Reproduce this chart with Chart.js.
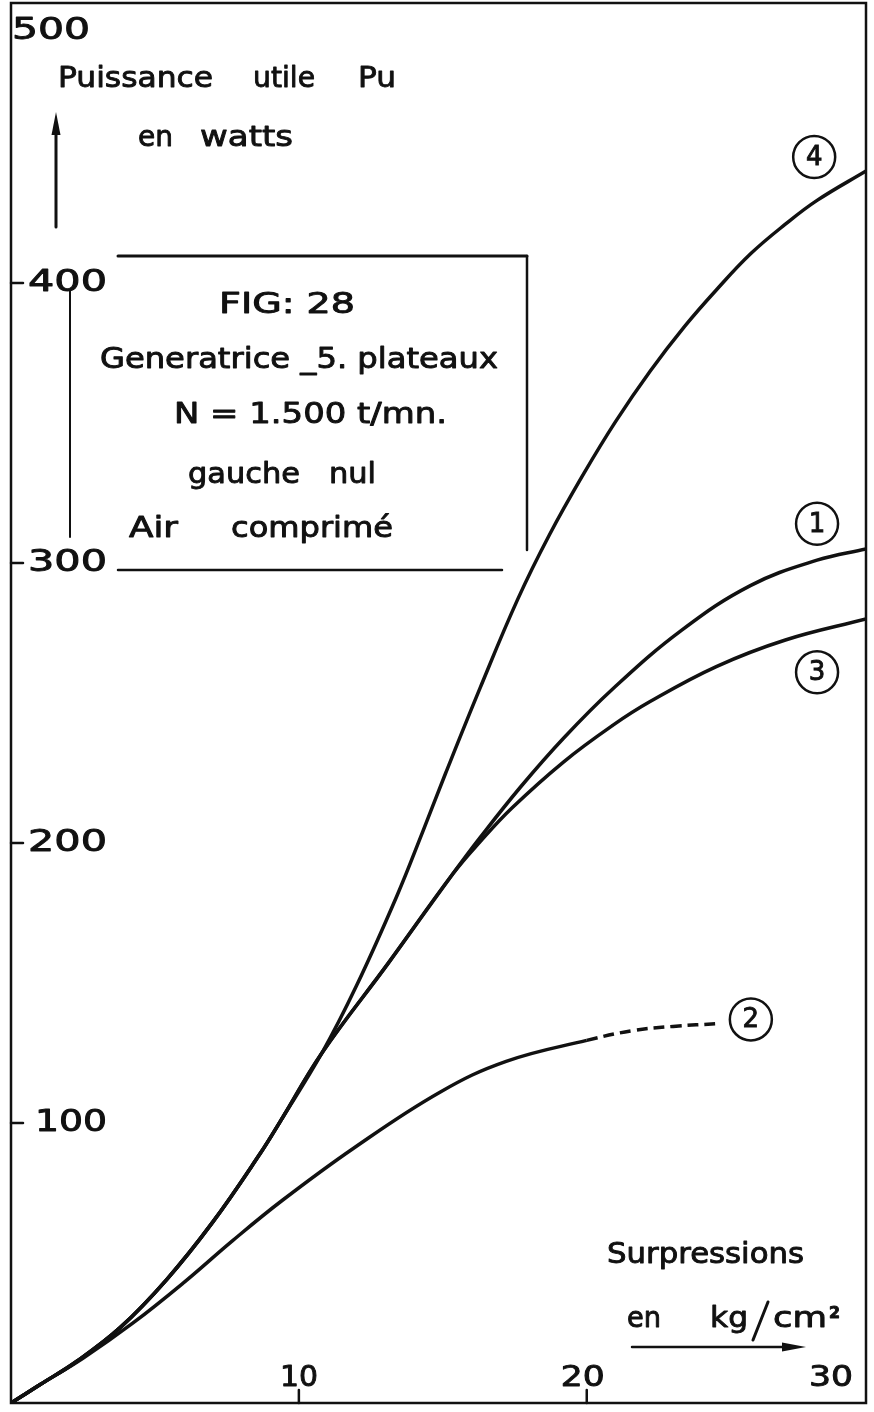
<!DOCTYPE html>
<html><head><meta charset="utf-8">
<script src="https://cdn.jsdelivr.net/npm/chart.js@4.4.1/dist/chart.umd.min.js"></script>
<style>html,body{margin:0;padding:0;background:#fff;}#wrap{width:874px;height:1412px;position:relative;}</style>
</head><body><div id="wrap"><canvas id="c" width="874" height="1412"></canvas></div>
<script>
// ---- data (pressure in kg/cm2, power in watts) ----
const curve1X = [0, 1, 2.3, 3.8, 5.4, 7.0, 8.65, 9.35, 10.8, 13.1, 15.35, 16.3, 17.7, 19.2, 20.9, 23.3, 25.7, 28.0, 29.7];
const curve1Y = [0, 6.5, 15, 27, 44, 64.5, 89, 100.5, 125, 157, 189, 202, 220, 237.5, 255, 276, 292, 301, 305];
const curve2X = [0, 1, 2.5, 4.24, 6.0, 7.7, 9.44, 11.9, 14.9, 17.2, 20.0, 21.6, 23.0, 24.6];
const curve2Y = [0, 6.5, 16, 28.6, 43, 58, 72.5, 91, 111, 122, 129.5, 133, 134.5, 135.5];
const curve3X = [0, 1, 2.3, 3.8, 5.4, 7.0, 8.65, 9.35, 10.8, 13.1, 15.35, 16.3, 17.4, 19.2, 20.9, 22.2, 24.5, 26.9, 29.7];
const curve3Y = [0, 6.5, 15, 27, 44, 64.5, 89, 100.5, 125, 157, 189, 200.5, 212.5, 229, 242, 250.5, 263, 272.5, 280];
const curve4X = [0, 1, 2.3, 3.8, 5.4, 7.0, 8.65, 9.35, 10.8, 12.0, 13.4, 14.3, 15.1, 16.3, 17.6, 18.7, 19.9, 21.0, 22.2, 23.4, 24.5, 25.7, 26.9, 28.0, 29.7];
const curve4Y = [0, 6.5, 15, 27, 44, 64.5, 89, 100.5, 125, 149, 181, 204, 225, 255.5, 287, 310, 332, 350.5, 368.5, 384.5, 397.5, 410.5, 421, 429.5, 440];
const dashedFromX = 20.0;            // curve 2 is dashed beyond this pressure
const curveNames = ['1', '2', '3', '4'];
const curveLabelX = [28.0, 25.7, 28.0, 27.9];
const curveLabelY = [314, 137, 261, 445];
const yTickValues = [100, 200, 300, 400, 500];
const yTickLabels = ['100', '200', '300', '400', '500'];
const xTickValues = [10, 20, 30];
const xTickLabels = ['10', '20', '30'];

const FONT = '"DejaVu Sans", sans-serif';
const INK = '#111';

function pts(xs, ys) { return xs.map((x, i) => ({x: x, y: ys[i]})); }

function drawFit(ctx, text, x, y, w, size, align, weight) {
  ctx.font = (weight || 'normal') + ' ' + size + 'px ' + FONT;
  ctx.textAlign = 'left';
  const w0 = ctx.measureText(text).width;
  const sx = w / w0;
  let x0 = x;
  if (align === 'center') x0 = x - w / 2;
  if (align === 'right') x0 = x - w;
  ctx.save();
  ctx.translate(x0, y);
  ctx.scale(sx, 1);
  ctx.fillText(text, 0, 0);
  ctx.lineWidth = 0.9; ctx.lineJoin = 'round';
  ctx.strokeText(text, 0, 0);
  ctx.restore();
}

function line(ctx, x1, y1, x2, y2, lw) {
  ctx.lineWidth = lw;
  ctx.beginPath(); ctx.moveTo(x1, y1); ctx.lineTo(x2, y2); ctx.stroke();
}

const decor = {
  id: 'decor',
  afterDraw(chart) {
    const ctx = chart.ctx, a = chart.chartArea;
    const xs = chart.scales.x, ys = chart.scales.y;
    ctx.save();
    ctx.strokeStyle = INK; ctx.fillStyle = INK; ctx.lineCap = 'round';
    ctx.textBaseline = 'alphabetic';
    // frame
    ctx.lineWidth = 2.5;
    ctx.strokeRect(a.left, a.top, a.right - a.left, a.bottom - a.top);
    // y ticks & labels
    yTickValues.forEach((v, i) => {
      const y = ys.getPixelForValue(v);
      if (y < a.top + 10) {
        drawFit(ctx, yTickLabels[i], a.left + 1, a.top + 36, 78, 30);
        return;
      }
      line(ctx, a.left, y, a.left + 12, y, 2.5);
      const w = yTickLabels[i] === '100' ? 72 : 79;
      drawFit(ctx, yTickLabels[i], a.left + 96 - w, y + 8, w, 30);
    });
    // x ticks & labels
    xTickValues.forEach((v, i) => {
      let x = xs.getPixelForValue(v);
      if (x < a.right - 5) {
        line(ctx, x, a.bottom, x, a.bottom - 13, 2.5);
      }
      x = Math.min(x - (i === 1 ? 4 : 0), a.right - 35);
      drawFit(ctx, xTickLabels[i], x, a.bottom - 17, xTickLabels[i] === '10' ? 38 : 44, 28, 'center');
    });
    // y-axis title + arrow
    drawFit(ctx, 'Puissance', 58, 87, 155, 29);
    drawFit(ctx, 'utile', 253, 87, 62, 29);
    drawFit(ctx, 'Pu', 358, 87, 38, 29);
    drawFit(ctx, 'en', 138, 146, 35, 29);
    drawFit(ctx, 'watts', 200, 146, 93, 29);
    line(ctx, 56, 227, 56, 128, 3);
    ctx.beginPath(); ctx.moveTo(56, 112); ctx.lineTo(51.5, 135); ctx.lineTo(60.5, 135); ctx.closePath(); ctx.fill();
    // x-axis title + arrow
    drawFit(ctx, 'Surpressions', 607, 1263, 197, 28);
    drawFit(ctx, 'en', 627, 1327, 34, 28);
    drawFit(ctx, 'kg', 710, 1327, 38, 28);
    line(ctx, 768, 1302, 753, 1340, 3);
    drawFit(ctx, 'cm', 773, 1327, 54, 28);
    drawFit(ctx, '2', 829, 1318, 11, 15, 'left', 'bold');
    line(ctx, 632, 1347, 790, 1347, 2.5);
    ctx.beginPath(); ctx.moveTo(806, 1347); ctx.lineTo(782, 1342.5); ctx.lineTo(782, 1351.5); ctx.closePath(); ctx.fill();
    // info box
    line(ctx, 118, 256, 527, 256, 3);
    line(ctx, 527, 256, 527, 550, 2.5);
    line(ctx, 118, 570, 502, 570, 2.5);
    line(ctx, 70, 290, 70, 537, 2);
    drawFit(ctx, 'FIG: 28', 219, 313, 136, 28);
    drawFit(ctx, 'Generatrice _5. plateaux', 100, 368, 398, 28);
    drawFit(ctx, 'N = 1.500 t/mn.', 174, 423, 273, 28);
    drawFit(ctx, 'gauche   nul', 188, 483, 188, 28);
    drawFit(ctx, 'Air', 129, 537, 49, 28);
    drawFit(ctx, 'comprimé', 231, 537, 162, 28);
    // curve labels (circled numbers)
    curveNames.forEach((n, i) => {
      const cx = xs.getPixelForValue(curveLabelX[i]);
      const cy = ys.getPixelForValue(curveLabelY[i]);
      ctx.lineWidth = 2.5;
      ctx.beginPath(); ctx.arc(cx, cy, 21, 0, Math.PI * 2); ctx.stroke();
      ctx.font = '26px ' + FONT; ctx.textAlign = 'center'; ctx.textBaseline = 'middle';
      ctx.fillText(n, cx, cy + 1);
      ctx.lineWidth = 0.9; ctx.strokeText(n, cx, cy + 1);
      ctx.textBaseline = 'alphabetic';
    });
    ctx.restore();
  }
};

const common = {showLine: true, pointRadius: 0, borderColor: INK, borderWidth: 3.5,
  tension: 0.4, fill: false};

new Chart(document.getElementById('c'), {
  type: 'scatter',
  data: {
    datasets: [
      Object.assign({label: curveNames[0], data: pts(curve1X, curve1Y)}, common),
      Object.assign({label: curveNames[1], data: pts(curve2X, curve2Y),
        segment: {borderDash: ctx => ctx.p0.parsed.x >= dashedFromX ? [11, 6] : undefined}}, common),
      Object.assign({label: curveNames[2], data: pts(curve3X, curve3Y)}, common),
      Object.assign({label: curveNames[3], data: pts(curve4X, curve4Y)}, common)
    ]
  },
  options: {
    responsive: false, animation: false, devicePixelRatio: 1,
    layout: {padding: {left: 11, top: 3, right: 8, bottom: 9}},
    plugins: {legend: {display: false}, tooltip: {enabled: false}},
    scales: {
      x: {type: 'linear', min: 0, max: 29.7, display: false},
      y: {type: 'linear', min: 0, max: 500, display: false}
    }
  },
  plugins: [decor]
});
</script>
</body></html>
